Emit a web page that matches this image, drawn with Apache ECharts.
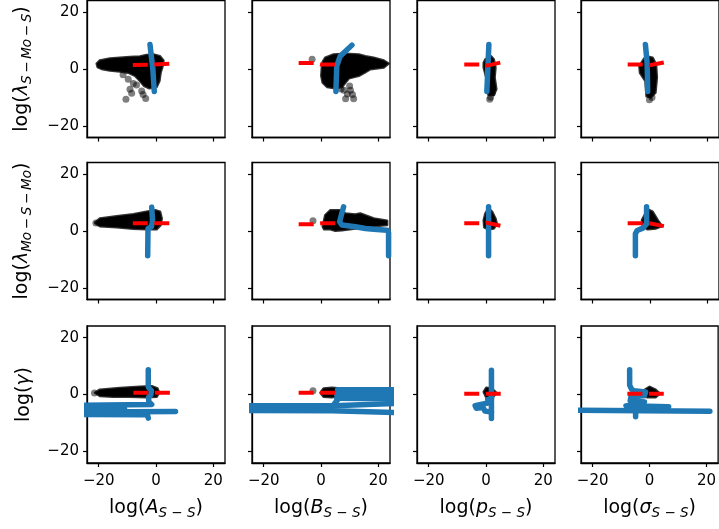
<!DOCTYPE html>
<html><head><meta charset="utf-8">
<script src="https://cdn.jsdelivr.net/npm/echarts@6/dist/echarts.min.js"></script>
<style>html,body{margin:0;padding:0;background:#fff}#c{width:719px;height:529px}</style>
</head><body><div id="c"></div>
<script>
// ---- tick values / labels ----
const xTicks = [-20, 0, 20];
const yTicks = [-20, 0, 20];
const xSym = ['A', 'B', 'p', 'σ'];
const xSub = ['S − S', 'S − S', 'S − S', 'S − S'];
const ySym = ['λ', 'λ', 'γ'];
const ySub = ['S\u2009−\u2009Mo\u2009−\u2009S', 'Mo\u2009−\u2009S\u2009−\u2009Mo', ''];

// ---- row 1 ----
const blob_1_1 = [[-20.7,1.9],[-19.6,3.0],[-16.1,3.7],[-12.6,4.0],[-9.1,4.2],[-5.6,4.4],[-3.3,4.9],[-0.9,5.1],[1.4,4.5],[2.6,3.0],[2.3,1.0],[1.6,-1.3],[1.2,-4.2],[0.2,-6.3],[-2.3,-6.8],[-4.2,-5.9],[-5.6,-4.2],[-7.3,-2.4],[-9.7,-1.3],[-12.6,-0.9],[-16.1,-0.5],[-19.0,0.0],[-20.4,0.7]];
const pts_1_1 = [[-10.5,-10.6],[-3.6,-10.4],[-5.0,-7.7],[-9.1,-7.1],[-7.9,-5.1],[-9.7,-3.6],[-6.8,-5.6],[-8.5,-8.5],[-4.5,-9.0],[-11.5,-2.0]];
const red_1_1 = [[-8.1,1.4],[-1.5,1.5],[5.1,1.9]];
const blue_1_1 = [[[-2.1,8.6],[-1.5,3.4],[-1.1,0],[-0.6,-7.9]]];

const blob_1_2 = [[0.3,0.5],[0.6,2.5],[1.5,4.0],[4.4,5.1],[8.5,5.4],[13.2,5.1],[15.5,4.5],[18.4,4.0],[21.9,3.0],[23.6,1.9],[21.9,0.5],[17.2,-0.1],[15.5,-1.1],[13.2,-2.4],[9.7,-3.3],[8.5,-4.8],[7.3,-6.3],[5.0,-6.8],[2.1,-6.3],[0.6,-4.8],[0.1,-2.4]];
const pts_1_2 = [[-3.1,3.4],[8.0,-7.5],[9.2,-8.8],[8.6,-10.5],[11.4,-10.5],[10.3,-7.5],[10.0,-6.0],[11.0,-9.0],[7.0,-7.0]];
const red_1_2 = [[-7.8,2.1],[-2.5,2.1],[0,1.6],[5.6,1.6]];
const blue_1_2 = [[[5.2,-7.9],[5.5,1.0],[6.7,4.5],[10.8,8.4]]];

const blob_1_3 = [[-0.8,2.2],[-0.2,3.4],[1.7,4.5],[2.7,3.4],[3.3,0.5],[3.0,-3.0],[3.6,-7.1],[2.7,-9.1],[0.9,-9.1],[0.1,-6.5],[0.1,-3.0],[-0.8,0.5]];
const pts_1_3 = [[1.3,-10.6],[1.6,-9.9],[2.2,-8.5]];
const red_1_3 = [[-7.6,1.6],[-1.0,1.6],[0.4,1.2],[5.6,2.4]];
const blue_1_3 = [[[1.0,8.6],[0.3,-7.9]]];

const blob_1_4 = [[-3.7,1.0],[-2.6,2.8],[-1.4,4.5],[0.9,4.0],[2.1,1.6],[2.4,-3.0],[1.9,-8.3],[0.3,-10.0],[-1.2,-9.6],[-1.6,-4.2],[-3.5,-1.3]];
const pts_1_4 = [[-0.2,-10.8],[0.7,-10.0]];
const red_1_4 = [[-7.8,1.6],[-1.5,1.6],[-0.2,1.3],[5.4,2.4]];
const blue_1_4 = [[[-1.6,8.6],[-1.0,2.0],[-0.8,-7.9]]];

// ---- row 2 ----
const blob_2_1 = [[-21.3,2.9],[-19.6,4.4],[-13.7,5.2],[-7.9,5.9],[-3.3,6.8],[-0.3,7.3],[1.4,6.8],[2.0,4.4],[1.6,2.1],[0.2,0.6],[-3.3,0.6],[-7.9,0.8],[-13.7,1.3],[-19.6,1.7],[-20.6,2.3]];
const pts_2_1 = [[-21.0,2.8]];
const red_2_1 = [[-8.1,2.7],[5.1,2.7]];
const blue_2_1 = [[[-1.5,8.4],[-1.2,3.5],[-1.6,1.5],[-2.8,0.8],[-2.9,-8.7]]];

const blob_2_2 = [[0.6,1.5],[1.5,5.6],[3.3,7.3],[6.7,7.3],[8.5,6.2],[12.0,5.8],[13.7,6.2],[18.4,4.4],[23.1,3.6],[23.1,2.1],[18.4,1.7],[12.0,0.9],[7.3,0.3],[5.0,0.1],[3.3,0.6],[1.1,0.6]];
const pts_2_2 = [[-2.8,3.6]];
const red_2_2 = [[-7.8,2.4],[-2.6,2.4],[0.3,2.7],[5.6,2.7]];
const blue_2_2 = [[[7.9,8.5],[6.5,3.3],[7.3,2.1],[12.0,1.5],[15.5,0.9],[18.4,0.6],[23.1,0.3],[23.6,-0.5],[23.6,-8.7]]];

const blob_2_3 = [[-0.8,3.8],[-0.2,6.2],[0.9,7.9],[2.1,6.8],[3.3,4.4],[3.8,2.4],[2.7,0.9],[0.9,0.6],[-0.6,1.3]];
const pts_2_3 = [];
const red_2_3 = [[-7.6,2.7],[-1.5,2.7],[0.3,2.9],[5.6,1.7]];
const blue_2_3 = [[[0.9,8.5],[0.9,-8.7]]];

const blob_2_4 = [[-2.8,3.8],[-0.8,7.6],[0.9,6.8],[2.7,3.8],[4.2,1.7],[2.1,0.9],[-0.8,0.6],[-2.4,1.5]];
const pts_2_4 = [];
const red_2_4 = [[-7.8,2.7],[-1.5,2.7],[-0.2,2.7],[5.0,1.7]];
const blue_2_4 = [[[-1.2,8.5],[-1.2,2.5],[-2.5,1.0],[-4.5,0.2],[-5.1,-1.0],[-5.1,-8.7]]];

// ---- row 3 ----
const blob_3_1 = [[-21.3,0.6],[-19.6,1.7],[-12.6,2.3],[-5.6,2.7],[-1.5,2.9],[0.5,2.1],[1.1,0.6],[0.2,-0.8],[-3.3,-1.0],[-9.1,-0.8],[-15.0,-0.8],[-19.6,-0.5]];
const pts_3_1 = [[-21.5,0.5]];
const red_3_1 = [[-7.9,0.6],[5.1,0.6]];
const blue_3_1 = [
  [[-2.7,8.7],[-2.7,2.6],[-1.6,1.4],[-1.8,-0.1],[-2.6,-1.0],[-2.5,-2.6],[-1.5,-3.5],[-1.0,-3.8],[-30,-3.8]],
  [[-30,-5.0],[-11,-5.0]],
  [[-30,-6.2],[6.8,-6.0]],
  [[-30,-7.0],[-3.0,-7.1],[-2.7,-8.3]]
];

const blob_3_2 = [[-0.2,0.6],[0.9,2.1],[3.8,2.4],[6.7,2.1],[7.3,-0.2],[3.8,-1.0],[0.9,-0.8]];
const pts_3_2 = [[-2.8,1.3]];
const red_3_2 = [[-7.8,0.6],[5.2,0.6]];
const blue_3_2 = [
  [[-30,-4.0],[4.5,-4.0],[30,-3.0]],
  [[-30,-5.6],[4.0,-5.7],[30,-6.5]],
  [[5.8,1.7],[30,1.7]],
  [[5.4,0.2],[30,0.2]],
  [[5.5,-1.3],[30,-1.5]],
  [[4.5,-3.5],[6.5,-1.0]]
];

const blob_3_3 = [[-0.8,0.9],[0.1,2.4],[2.1,2.1],[3.6,0.6],[2.4,-1.0],[0.1,-1.0]];
const pts_3_3 = [];
const red_3_3 = [[-7.6,0.3],[5.6,0.3]];
const blue_3_3 = [
  [[1.9,8.5],[1.9,-8.4]],
  [[1.9,-1.3],[0.6,-1.8],[1.5,-2.8],[-3.8,-3.9],[-3.4,-4.8],[-1.0,-4.6],[-0.4,-5.8],[1.9,-6.2]]
];

const blob_3_4 = [[-2.0,1.5],[0,2.7],[2.1,1.7],[3.6,0.3],[2.1,-1.0],[-0.8,-1.0]];
const pts_3_4 = [];
const red_3_4 = [[-7.8,0.3],[5.0,0.3]];
const blue_3_4 = [
  [[-7.0,8.7],[-7.0,3.3],[-6.3,1.8],[-5.5,1.3],[-1.4,0.9],[-1.8,-0.4],[-6.5,-0.6],[-6.8,-2.2],[-1.8,-2.6],[-2.5,-3.5],[-8.3,-4.0],[6.7,-4.3]],
  [[-30,-5.5],[21.2,-5.9]],
  [[-4.9,-5.0],[-4.9,-7.8]]
];

const blobs = [[blob_1_1,blob_1_2,blob_1_3,blob_1_4],[blob_2_1,blob_2_2,blob_2_3,blob_2_4],[blob_3_1,blob_3_2,blob_3_3,blob_3_4]];
const pts = [[pts_1_1,pts_1_2,pts_1_3,pts_1_4],[pts_2_1,pts_2_2,pts_2_3,pts_2_4],[pts_3_1,pts_3_2,pts_3_3,pts_3_4]];
const reds = [[red_1_1,red_1_2,red_1_3,red_1_4],[red_2_1,red_2_2,red_2_3,red_2_4],[red_3_1,red_3_2,red_3_3,red_3_4]];
const blues = [[blue_1_1,blue_1_2,blue_1_3,blue_1_4],[blue_2_1,blue_2_2,blue_2_3,blue_2_4],[blue_3_1,blue_3_2,blue_3_3,blue_3_4]];

// ---- layout ----
const colLeft = [87, 252, 417, 581];
const rowTop = [0.5, 162.5, 326];
const W = 138, H = 137;
const LIM = 24.1;
const FONT = 'DejaVu Sans';
const fmt = v => (v < 0 ? '\u2212' + Math.abs(v) : String(v));
const rich = {
  n: {fontSize: 19, fontFamily: FONT, color: '#000'},
  i: {fontSize: 19, fontFamily: FONT, fontStyle: 'italic', color: '#000'},
  s: {fontSize: 13.5, fontFamily: FONT, fontStyle: 'italic', color: '#000', padding: [10, 0, 0, 0]}
};

const grids = [], xAxes = [], yAxes = [], series = [];
for (let r = 0; r < 3; r++) {
  for (let c = 0; c < 4; c++) {
    const k = r * 4 + c;
    grids.push({left: colLeft[c], top: rowTop[r], width: W, height: H, show: true,
      borderColor: '#000', borderWidth: 1.3, backgroundColor: 'transparent'});
    xAxes.push({type: 'value', gridIndex: k, min: -LIM, max: LIM, splitLine: {show: false},
      axisLine: {show: true, onZero: false, lineStyle: {color: '#000', width: 1.3}},
      axisTick: {show: true, inside: false, length: 4, customValues: xTicks, lineStyle: {color: '#000', width: 1.2}},
      axisLabel: {show: r === 2, customValues: xTicks, formatter: fmt, fontSize: 15, fontFamily: FONT, color: '#000', margin: 11},
      name: r === 2 ? '{n|log(}{i|' + xSym[c] + '}{s|' + xSub[c] + '}{n|)}' : '',
      nameLocation: 'middle', nameGap: 33, nameTextStyle: {rich: rich}
    });
    yAxes.push({type: 'value', gridIndex: k, min: -LIM, max: LIM, splitLine: {show: false},
      axisLine: {show: true, onZero: false, lineStyle: {color: '#000', width: 1.3}},
      axisTick: {show: true, inside: false, length: 4, customValues: yTicks, lineStyle: {color: '#000', width: 1.2}},
      axisLabel: {show: c === 0, customValues: yTicks, formatter: fmt, fontSize: 15, fontFamily: FONT, color: '#000', margin: 8},
      name: c === 0 ? ('{n|log(}{i|' + ySym[r] + '}' + (ySub[r] ? '{s|' + ySub[r] + '}' : '') + '{n|)}') : '',
      nameLocation: 'middle', nameGap: 53, nameRotate: 90, nameTextStyle: {rich: rich}
    });
    const blob = blobs[r][c];
    series.push({type: 'custom', xAxisIndex: k, yAxisIndex: k, data: blob, clip: true, z: 2,
      encode: {x: 0, y: 1}, silent: true,
      renderItem: function (params, api) {
        if (params.dataIndex !== 0) return null;
        return {type: 'polygon', shape: {points: blob.map(p => api.coord(p))},
          style: {fill: '#000', stroke: 'rgba(0,0,0,0.8)', lineWidth: 2.5, lineJoin: 'round'}};
      }});
    series.push({type: 'scatter', xAxisIndex: k, yAxisIndex: k, data: pts[r][c], symbolSize: 7, z: 2,
      itemStyle: {color: '#000', opacity: 0.5}});
    blues[r][c].forEach(line => series.push({type: 'line', xAxisIndex: k, yAxisIndex: k, data: line,
      showSymbol: false, symbol: 'none', clip: true, z: 3,
      lineStyle: {color: '#1f77b4', width: 5.5, cap: 'round', join: 'round'}}));
    series.push({type: 'line', xAxisIndex: k, yAxisIndex: k, data: reds[r][c], showSymbol: false, symbol: 'none',
      clip: true, z: 4, lineStyle: {color: '#ff0000', width: 4, type: [15, 6.5]}});
  }
}

const chart = echarts.init(document.getElementById('c'), null, {renderer: 'canvas'});
chart.setOption({animation: false, backgroundColor: '#fff', grid: grids, xAxis: xAxes, yAxis: yAxes, series: series});
</script></body></html>
